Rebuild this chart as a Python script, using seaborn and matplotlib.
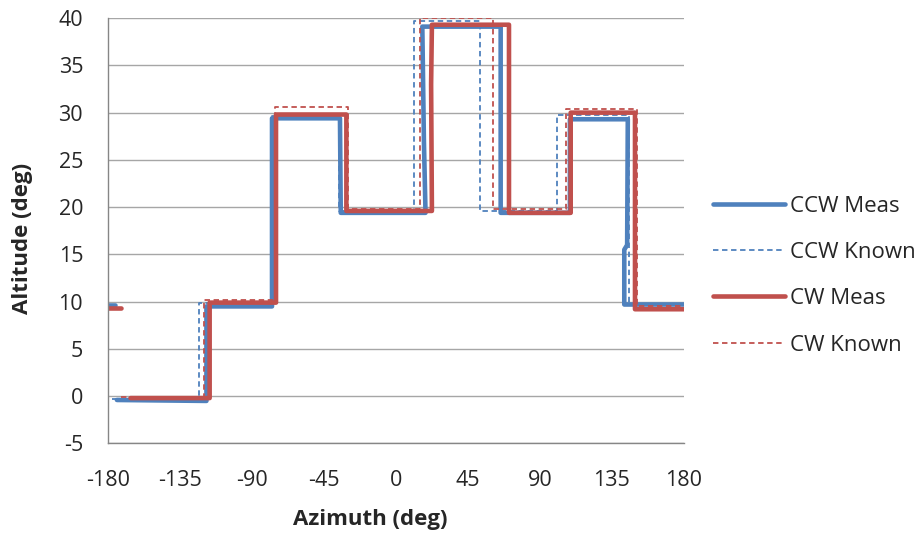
import numpy as np
import pandas as pd
import matplotlib
matplotlib.use('Agg')
import matplotlib.pyplot as plt
from matplotlib.lines import Line2D
import seaborn as sns

nan = np.nan

###############################################################################
#data read off the chart (nan = gap in the recorded data)
ccw_meas_az = [-180, -176, nan, -174.5, -118.5, -118.5, -77.5, -77.5, -35, -34.5, 18.5, 17.5, 16.5,
               65.5, 65.5, 108.8, 108.8, 145, 144.6, 142.8, 142.8, 180]
ccw_meas_alt = [9.7, 9.7, nan, -0.4, -0.5, 9.5, 9.5, 29.4, 29.4, 19.4, 19.4, 27, 39.1,
                39.1, 19.4, 19.4, 29.3, 29.3, 16, 15.5, 9.7, 9.7]

ccw_known_az = [-177.5, -123, -123, -77.5, -77.5, -35.5, -35.5, 11, 11, 52.8, 52.8, 101, 101, 146, 146, 180]
ccw_known_alt = [-0.3, -0.3, 9.9, 9.9, 29.6, 29.6, 19.6, 19.6, 39.7, 39.7, 19.6, 19.6, 29.7, 29.7, 9.8, 9.8]

cw_meas_az = [-180, -172, nan, -166, -116.5, -116.5, -75, -75, -31, -31, 22.5, 22, 22.5,
              70.7, 70.7, 109.3, 109.3, 149.5, 149.5, 180]
cw_meas_alt = [9.3, 9.3, nan, -0.2, -0.2, 9.9, 9.9, 29.8, 29.8, 19.6, 19.6, 33, 39.3,
               39.3, 19.4, 19.4, 30.0, 30.0, 9.2, 9.2]

cw_known_az = [-172, -120, -120, -75.8, -75.8, -29.8, -29.8, 14.8, 14.8, 60.8, 60.8, 106.5, 106.5, 150.5, 150.5, 180]
cw_known_alt = [-0.1, -0.1, 10.2, 10.2, 30.6, 30.6, 19.8, 19.8, 40, 40, 19.8, 19.8, 30.4, 30.4, 9.5, 9.5]

labels = ['CCW Meas', 'CCW Known', 'CW Meas', 'CW Known']
blue = '#4F81BD'
red = '#C0504D'

###############################################################################
#turning each series into a frame, a new segment after every gap
def to_frame(az, alt):
    df = pd.DataFrame({'az': az, 'alt': alt})
    df['seg'] = df['alt'].isna().cumsum()
    return df.dropna()

series = [
    (to_frame(ccw_meas_az, ccw_meas_alt), blue, 3.3, '-'),
    (to_frame(ccw_known_az, ccw_known_alt), blue, 1.3, (0, (3, 2))),
    (to_frame(cw_meas_az, cw_meas_alt), red, 3.3, '-'),
    (to_frame(cw_known_az, cw_known_alt), red, 1.3, (0, (3, 2))),
]

###############################################################################
sns.set_theme(style='white')
plt.rcParams['font.family'] = ['Open Sans', 'DejaVu Sans']
plt.rcParams['axes.unicode_minus'] = False
fs = 16

fig = plt.figure(figsize=(9.24, 5.33), dpi=100)
ax = fig.add_axes([0.117, 0.168, 0.623, 0.798])

for df, col, lw, ls in series:
    sns.lineplot(data=df, x='az', y='alt', units='seg', estimator=None, sort=False,
                 color=col, lw=lw, linestyle=ls, ax=ax, legend=False)

ax.set_xlim(-180, 180)
ax.set_ylim(-5, 40)
ax.set_xticks(range(-180, 181, 45))
ax.set_yticks(range(-5, 41, 5))
ax.yaxis.grid(True, color='#A6A6A6', lw=1)
ax.xaxis.grid(False)
ax.set_axisbelow(True)
for s in ['top', 'right']:
    ax.spines[s].set_visible(False)
for s in ['left', 'bottom']:
    ax.spines[s].set_color('#868686')
    ax.spines[s].set_linewidth(1)
ax.tick_params(axis='both', direction='out', length=7, width=1, color='#868686',
               labelsize=fs - 0.5, labelcolor='#262626')
ax.tick_params(axis='x', pad=12)
ax.tick_params(axis='y', pad=11)

ax.set_xlabel('Azimuth (deg)', fontsize=fs, fontweight='bold', color='#262626')
ax.set_ylabel('Altitude (deg)', fontsize=fs, fontweight='bold', color='#262626')
ax.xaxis.set_label_coords(0.455, -0.155)
ax.yaxis.set_label_coords(-0.130, 0.483)

handles = [Line2D([], [], color=c, lw=lw, linestyle=ls) for _, c, lw, ls in series]
fig.legend(handles, labels, loc='center left', bbox_to_anchor=(0.762, 0.483), frameon=False,
           fontsize=fs, handlelength=3.25, handletextpad=0.22, labelspacing=1.14, borderaxespad=0)

fig.savefig('out.png', dpi=100)
